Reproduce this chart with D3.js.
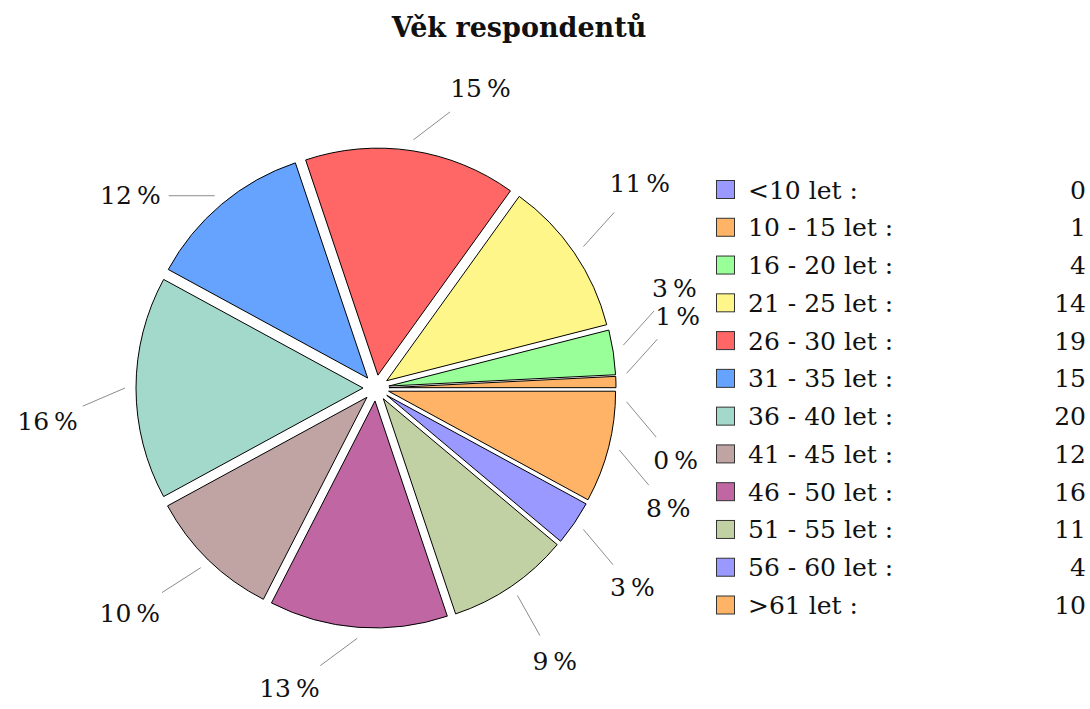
<!DOCTYPE html>
<html>
<head>
<meta charset="utf-8">
<script src="https://cdn.jsdelivr.net/npm/d3@7"></script>
<style>
  body { margin: 0; background: #fff; }
  text { font-family: "DejaVu Serif", serif; fill: #111; }
</style>
</head>
<body>
<div class="chart"></div>
<script>
// age groups and number of respondents
const categories = ["<10 let", "10 - 15 let", "16 - 20 let", "21 - 25 let", "26 - 30 let", "31 - 35 let",
                    "36 - 40 let", "41 - 45 let", "46 - 50 let", "51 - 55 let", "56 - 60 let", ">61 let"]
const counts = [0, 1, 4, 14, 19, 15, 20, 12, 16, 11, 4, 10]
const palette = ["#9999ff", "#ffb366", "#99ff99", "#fff68a", "#ff6666",
                 "#66a3ff", "#a3d9cb", "#c0a3a3", "#bf66a3", "#c2d1a3"]
const titleText = "Věk respondentů"

const width = 1090
const height = 709
const cx = 376, cy = 388
const radius = 227
const explode = 13
const pinStart = 251
const pinLen = 46
const fontSize = '25px'

const total = d3.sum(counts)
const data = categories.map((c, i) => ({ name: c, value: counts[i], color: palette[i % palette.length] }))

const svg = d3.select('.chart')
  .append('svg')
    .attr('width', width)
    .attr('height', height)

svg.append('rect').attr('width', width).attr('height', height).attr('fill', '#fff')

svg.append('text')
  .attr('x', 519)
  .attr('y', 37)
  .attr('text-anchor', 'middle')
  .style('font-weight', 'bold')
  .style('font-size', '27px')
  .text(titleText)

// counterclockwise from 3 o'clock
const pie = d3.pie().sort(null).value(d => d.value)
  .startAngle(Math.PI / 2)
  .endAngle(Math.PI / 2 - 2 * Math.PI)
const arcs = pie(data)
const arc = d3.arc().innerRadius(0).outerRadius(radius)

const g = svg.append('g').attr('transform', `translate(${cx}, ${cy})`)

g.selectAll('path.slice')
  .data(arcs.filter(d => d.value > 0))
  .enter().append('path')
    .attr('class', 'slice')
    .attr('d', arc)
    .attr('fill', d => d.data.color)
    .attr('stroke', '#000')
    .attr('stroke-width', 1)
    .attr('transform', d => {
      const m = (d.startAngle + d.endAngle) / 2
      return `translate(${explode * Math.sin(m)}, ${-explode * Math.cos(m)})`
    })

// label angles in math degrees, spread apart where slices are tiny
const labels = arcs.map(d => {
  const m = (d.startAngle + d.endAngle) / 2
  let deg = 90 - m * 180 / Math.PI
  if (deg > 180) deg -= 360
  if (deg <= -180) deg += 360
  return { d: d, ang: deg, pct: Math.round(d.value / total * 100) }
})
const minSep = 6.5
for (let it = 0; it < 60; it++) {
  labels.sort((a, b) => a.ang - b.ang)
  for (let i = 0; i < labels.length - 1; i++) {
    const gap = labels[i + 1].ang - labels[i].ang
    if (gap < minSep) {
      const push = (minSep - gap) / 2
      labels[i].ang -= push
      labels[i + 1].ang += push
    }
  }
}

const rad = a => a * Math.PI / 180
labels.forEach(l => {
  const th = l.ang
  let phi
  if (Math.cos(rad(th)) >= 0) {
    phi = th >= 0 ? 48 - Math.max(0, th - 60) * 0.5
                  : -50 - Math.max(0, -th - 45)
  } else {
    const t = th < 0 ? th + 360 : th
    phi = 180 + 40 * (1 - Math.exp(-Math.max(0, t - 132) / 55))
  }
  l.sx = cx + pinStart * Math.cos(rad(th))
  l.sy = cy - pinStart * Math.sin(rad(th))
  l.phi = phi
})

const labelG = svg.append('g')
labels.forEach(l => {
  const t = labelG.append('text')
    .attr('text-anchor', 'middle')
    .attr('dominant-baseline', 'central')
    .style('font-size', fontSize)
    .text(`${l.pct}\u2009%`)
  const w = t.node().getComputedTextLength()
  const L = 54 + w / 2
  const ux = Math.cos(rad(l.phi)), uy = -Math.sin(rad(l.phi))
  t.attr('x', l.sx + L * ux).attr('y', l.sy + L * uy)
  labelG.append('line')
    .attr('x1', l.sx).attr('y1', l.sy)
    .attr('x2', l.sx + pinLen * ux).attr('y2', l.sy + pinLen * uy)
    .attr('stroke', '#8c8c8c')
    .attr('stroke-width', 1)
})

// legend
const rowY = d3.scalePoint().domain(categories).range([190, 605.5])
const legend = svg.append('g')
const rows = legend.selectAll('g.row')
  .data(data)
  .enter().append('g')
    .attr('class', 'row')
    .attr('transform', d => `translate(0, ${rowY(d.name)})`)

rows.append('rect')
  .attr('x', 716.5).attr('y', -9.5)
  .attr('width', 18).attr('height', 18)
  .attr('fill', d => d.color)
  .attr('stroke', '#333')
  .attr('stroke-width', 1)

rows.append('text')
  .attr('x', 748)
  .attr('dominant-baseline', 'central')
  .style('font-size', fontSize)
  .text(d => `${d.name} :`)

rows.append('text')
  .attr('x', 1086)
  .attr('text-anchor', 'end')
  .attr('dominant-baseline', 'central')
  .style('font-size', fontSize)
  .text(d => d.value)
</script>
</body>
</html>
